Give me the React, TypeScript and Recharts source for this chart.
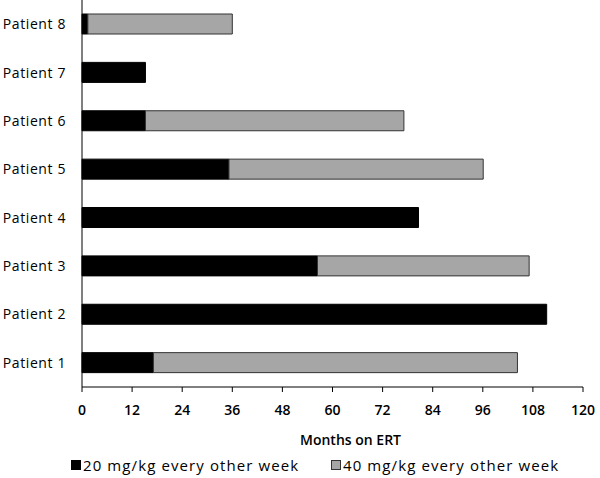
import React from 'react';
import { BarChart, Bar, XAxis, YAxis, Legend } from 'recharts';

const patients = ['Patient 1', 'Patient 2', 'Patient 3', 'Patient 4', 'Patient 5', 'Patient 6', 'Patient 7', 'Patient 8'];
const dose20 = [17.1, 111.3, 56.4, 80.6, 35.2, 15.2, 15.2, 1.4];
const dose40 = [87.2, 0, 50.7, 0, 60.9, 61.9, 0, 34.6];
const xTicks = [0, 12, 24, 36, 48, 60, 72, 84, 96, 108, 120];
const seriesNames = ['20 mg/kg every other week', '40 mg/kg every other week'];
const seriesColors = ['#000000', '#a6a6a6'];
const seriesStrokes = ['#000000', '#333333'];

const data = patients.map((p, i) => ({ patient: p, d20: dose20[i], d40: dose40[i] }));

const FONT = '"Open Sans", sans-serif';

const LegendContent = () => (
  <div style={{ position: 'relative', width: 600, height: 31, fontFamily: FONT, fontSize: 15, letterSpacing: 1.1, color: '#000' }}>
    {seriesNames.map((n, i) => (
      <div key={n} style={{ position: 'absolute', left: i === 0 ? 71 : 331, top: 8, display: 'flex', alignItems: 'center', whiteSpace: 'nowrap' }}>
        <span style={{ display: 'inline-block', width: 8, height: 8, background: seriesColors[i], border: `1px solid ${seriesStrokes[i]}`, marginRight: 2 }} />
        <span>{n}</span>
      </div>
    ))}
  </div>
);

export default function App() {
  return (
    <div style={{ position: 'absolute', left: 0, top: 0, background: '#fff' }}>
      <BarChart
        width={600}
        height={478}
        data={data}
        layout="vertical"
        margin={{ top: 0, right: 17, left: 0, bottom: 0 }}
        barSize={20}
      >
        <XAxis
          type="number"
          domain={[0, 120]}
          ticks={xTicks}
          interval={0}
          height={60}
          tickSize={5}
          tickMargin={13}
          axisLine={{ stroke: '#000', strokeWidth: 1 }}
          tickLine={{ stroke: '#000', strokeWidth: 1 }}
          tick={{ fill: '#000', fontSize: 14, fontFamily: FONT, fontWeight: 600 }}
          label={{ value: 'Months on ERT', position: 'insideBottom', offset: 2, dx: 18, fill: '#000', fontSize: 14, fontFamily: FONT, fontWeight: 600 }}
        />
        <YAxis
          type="category"
          dataKey="patient"
          reversed
          width={82}
          tickLine={false}
          tickSize={0}
          tickMargin={16}
          axisLine={{ stroke: '#000', strokeWidth: 1 }}
          tick={{ fill: '#000', fontSize: 14, fontFamily: FONT, letterSpacing: 0.6 }}
        />
        <Legend verticalAlign="bottom" height={31} content={<LegendContent />} wrapperStyle={{ left: 0, width: 600, height: 31 }} />
        <Bar dataKey="d20" name={seriesNames[0]} stackId="a" fill={seriesColors[0]} stroke={seriesStrokes[0]} strokeWidth={1} isAnimationActive={false} />
        <Bar dataKey="d40" name={seriesNames[1]} stackId="a" fill={seriesColors[1]} stroke={seriesStrokes[1]} strokeWidth={1} isAnimationActive={false} />
      </BarChart>
    </div>
  );
}
